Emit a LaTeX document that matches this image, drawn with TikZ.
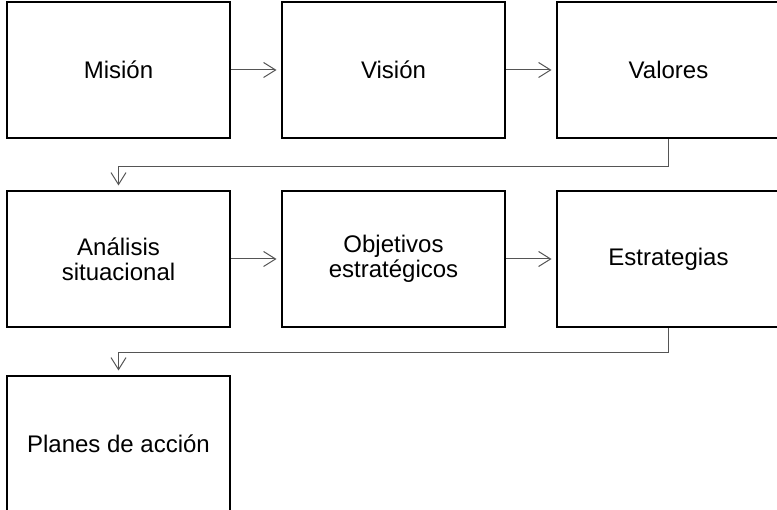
\documentclass[tikz,border=0pt]{standalone}
\usepackage{fontspec}
\setmainfont{Liberation Sans}
\usetikzlibrary{arrows.meta}
\definecolor{linegray}{RGB}{85,85,85}

\begin{document}
\begin{tikzpicture}[x=1pt,y=-1pt,
    caja/.style={draw,line width=2pt,minimum width=223pt,minimum height=136pt,
      align=center,font=\fontsize{24}{25}\selectfont},
    flecha/.style={draw=linegray,line width=1pt,
      -{Straight Barb[length=12pt,width=15pt]},shorten >=4.5pt}]
      \clip (0,0) rectangle (777,510);
      % primera fila
      \node[caja] (mision) at (118.5,70) {Misión};
      \node[caja] (vision) at (393.5,70) {Visión};
      \node[caja] (valores) at (668.5,70) {Valores};
      % segunda fila
      \node[caja] (analisis) at (118.5,259) {Análisis\\situacional};
      \node[caja] (objetivos) at (393.5,259) {Objetivos\\estratégicos};
      \node[caja] (estrategias) at (668.5,259) {Estrategias};
      % tercera fila
      \node[caja] (planes) at (118.5,444) {Planes de acción};
      \draw[flecha] (mision) -- (vision);
      \draw[flecha] (vision) -- (valores);
      \draw[flecha] (valores.south) -- ++(0,28) -| (analisis.north);
      \draw[flecha] (analisis) -- (objetivos);
      \draw[flecha] (objetivos) -- (estrategias);
      \draw[flecha] (estrategias.south) -- ++(0,25) -| (planes.north);
    \end{tikzpicture}
\end{document}
